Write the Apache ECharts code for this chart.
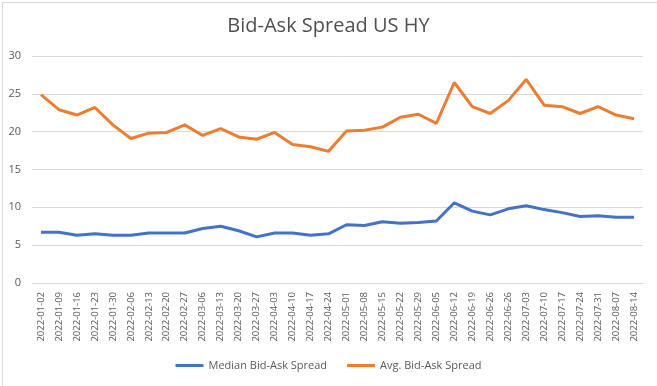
<!DOCTYPE html>
<html>
<head>
<meta charset="utf-8">
<script src="https://cdn.jsdelivr.net/npm/echarts@6/dist/echarts.min.js"></script>
<style>
html,body{margin:0;padding:0;background:#fff;}
#chart{width:657px;height:386px;}
</style>
</head>
<body>
<div id="chart"></div>
<script>
var categories = ["2022-01-02","2022-01-09","2022-01-16","2022-01-23","2022-01-30","2022-02-06","2022-02-13","2022-02-20","2022-02-27","2022-03-06","2022-03-13","2022-03-20","2022-03-27","2022-04-03","2022-04-10","2022-04-17","2022-04-24","2022-05-01","2022-05-08","2022-05-15","2022-05-22","2022-05-29","2022-06-05","2022-06-12","2022-06-19","2022-06-26","2022-06-26","2022-07-03","2022-07-10","2022-07-17","2022-07-24","2022-07-31","2022-08-07","2022-08-14"];
var medianSpread = [6.7,6.7,6.3,6.5,6.3,6.3,6.6,6.6,6.6,7.2,7.5,6.9,6.1,6.6,6.6,6.3,6.5,7.7,7.6,8.1,7.9,8.0,8.2,10.6,9.5,9.0,9.8,10.2,9.7,9.3,8.8,8.9,8.7,8.7];
var avgSpread = [24.9,22.9,22.2,23.2,20.9,19.1,19.8,19.9,20.9,19.5,20.4,19.3,19.0,19.9,18.3,18.0,17.4,20.1,20.2,20.6,21.9,22.3,21.1,26.5,23.3,22.4,24.1,26.9,23.5,23.3,22.4,23.3,22.2,21.7];
var seriesNames = ["Median Bid-Ask Spread","Avg. Bid-Ask Spread"];
var titleText = "Bid-Ask Spread US HY";

var chart = echarts.init(document.getElementById('chart'), null, {renderer:'canvas'});
var font = '"Open Sans", "Liberation Sans", sans-serif';
chart.setOption({
  animation: false,
  backgroundColor: '#fff',
  textStyle: {fontFamily: font},
  title: {
    text: titleText, left: 'center', top: 11,
    textStyle: {fontFamily: font, fontSize: 20, fontWeight: 'normal', color: '#505050'}
  },
  graphic: [{
    type: 'rect', left: 0, top: 0, silent: true,
    shape: {x: 0.5, y: 0.5, width: 655, height: 384},
    style: {fill: 'none', stroke: '#d9d9d9', lineWidth: 1}
  }],
  legend: {
    bottom: 10, left: 'center', itemWidth: 28, itemHeight: 3, itemGap: 20,
    icon: 'rect',
    textStyle: {fontFamily: font, fontSize: 11, color: '#595959'},
    data: seriesNames
  },
  grid: {left: 32, right: 14, top: 56, bottom: 103, containLabel: false},
  xAxis: {
    type: 'category', data: categories, boundaryGap: true,
    axisLine: {lineStyle: {color: '#d9d9d9'}},
    axisTick: {show: false},
    axisLabel: {interval: 0, rotate: 90, fontSize: 9.5, color: '#595959', fontFamily: font, margin: 9}
  },
  yAxis: {
    type: 'value', min: 0, max: 30, interval: 5,
    axisLine: {show: false}, axisTick: {show: false},
    splitLine: {lineStyle: {color: '#d9d9d9'}},
    axisLabel: {fontSize: 11, color: '#595959', fontFamily: font, margin: 11}
  },
  series: [
    {name: seriesNames[0], type: 'line', data: medianSpread, symbol: 'none',
     lineStyle: {width: 3, color: '#4472C4'}, itemStyle: {color: '#4472C4'}},
    {name: seriesNames[1], type: 'line', data: avgSpread, symbol: 'none',
     lineStyle: {width: 3, color: '#ED7D31'}, itemStyle: {color: '#ED7D31'}}
  ]
});
</script>
</body>
</html>
